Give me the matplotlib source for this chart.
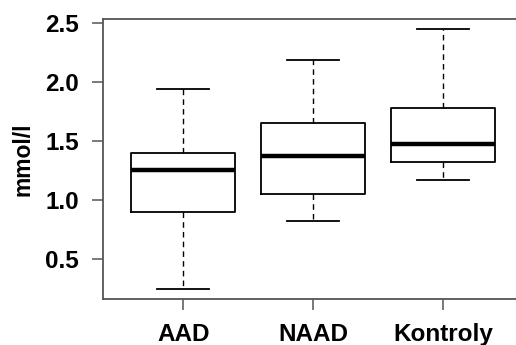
import matplotlib
matplotlib.use('Agg')
import matplotlib.pyplot as plt

# box statistics
groups = ['AAD', 'NAAD', 'Kontroly']
whislo = [0.24, 0.82, 1.17]
q1 = [0.90, 1.05, 1.325]
med = [1.25, 1.37, 1.475]
q3 = [1.395, 1.65, 1.78]
whishi = [1.94, 2.19, 2.45]
yticks = [0.5, 1.0, 1.5, 2.0, 2.5]

plt.rcParams['font.family'] = 'Liberation Sans'
plt.rcParams['font.weight'] = 'bold'

stats = [dict(label=g, whislo=a, q1=b, med=c, q3=d, whishi=e, fliers=[])
         for g, a, b, c, d, e in zip(groups, whislo, q1, med, q3, whishi)]

fig = plt.figure(figsize=(5.16, 3.45), dpi=100)
ax = fig.add_axes([0.199, 0.1325, 0.816, 0.8125])

ax.bxp(stats, positions=[1, 2, 3], widths=0.8, showfliers=False,
       boxprops=dict(color='black', lw=1.3),
       medianprops=dict(color='black', lw=3.2, solid_capstyle='butt'),
       whiskerprops=dict(color='black', lw=1.0, linestyle=(0, (4, 3))),
       capprops=dict(color='black', lw=1.3), capwidths=0.4)

ax.set_xlim(0.38, 3.62)
ax.set_ylim(0.155, 2.538)
ax.set_yticks(yticks)
ax.set_yticklabels([f'{v:.1f}' for v in yticks])
ax.set_xticks([1, 2, 3])
ax.set_xticklabels(groups)
ax.set_ylabel('mmol/l', fontsize=16.5, fontweight='bold', labelpad=8)

for s in ax.spines.values():
    s.set_color('#555555')
    s.set_linewidth(1.3)
ax.tick_params(axis='both', length=8, width=1.1, color='#555555',
               labelsize=17.5, pad=9)

fig.savefig('out.png', dpi=100)
